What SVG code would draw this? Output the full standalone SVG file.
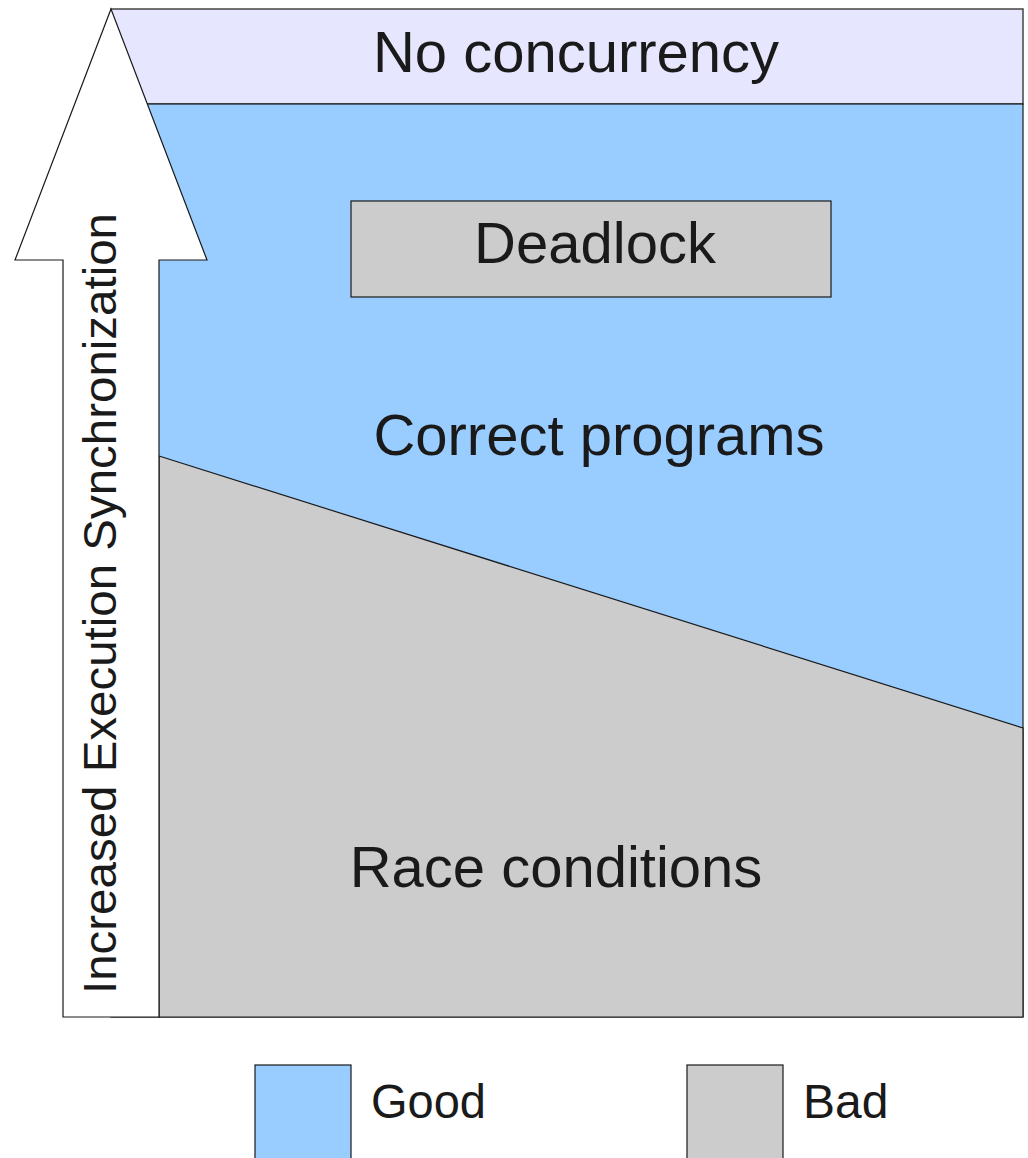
<svg xmlns="http://www.w3.org/2000/svg" width="1028" height="1158" viewBox="0 0 1028 1158">
<style>
  .lbl { font-family: "Liberation Sans", Arial, sans-serif; fill: #1a1a1a; }
  .big { font-size: 58px; text-anchor: middle; }
</style>
<rect x="0" y="0" width="1028" height="1158" fill="#ffffff"/>
<g id="no-concurrency">
  <rect x="111" y="9" width="912" height="95" fill="#e6e6ff" stroke="#444" stroke-width="1.5"/>
  <text class="lbl big" x="576" y="72">No concurrency</text>
</g>
<g id="correct-programs">
  <rect x="111" y="104" width="912" height="913" fill="#99ccff" stroke="#1a1a1a" stroke-width="1.2"/>
  <text class="lbl big" x="599" y="455">Correct programs</text>
</g>
<g id="race-conditions">
  <polygon points="159,456 1023,728 1023,1017 159,1017" fill="#cccccc" stroke="#1a1a1a" stroke-width="1.2"/>
  <text class="lbl big" x="556" y="887">Race conditions</text>
</g>
<g id="deadlock">
  <rect x="351" y="201" width="480" height="96" fill="#cccccc" stroke="#1a1a1a" stroke-width="1.2"/>
  <text class="lbl big" x="595" y="263">Deadlock</text>
</g>
<g id="axis-arrow">
  <polygon points="111,9 207,260 159,260 159,1017 63,1017 63,260 15,260" fill="#ffffff" stroke="#1a1a1a" stroke-width="1.2"/>
  <text class="lbl" font-size="47" text-anchor="middle" transform="translate(116,603.5) rotate(-90)" textLength="781" lengthAdjust="spacingAndGlyphs">Increased Execution Synchronization</text>
</g>
<g id="connectors"></g>
<g id="legend-good">
  <rect x="255" y="1065" width="96" height="100" fill="#99ccff" stroke="#1a1a1a" stroke-width="1.2"/>
  <text class="lbl" x="371" y="1118" font-size="48" textLength="115" lengthAdjust="spacingAndGlyphs">Good</text>
</g>
<g id="legend-bad">
  <rect x="687" y="1065" width="96" height="100" fill="#cccccc" stroke="#1a1a1a" stroke-width="1.2"/>
  <text class="lbl" x="803" y="1118" font-size="48">Bad</text>
</g>
</svg>
